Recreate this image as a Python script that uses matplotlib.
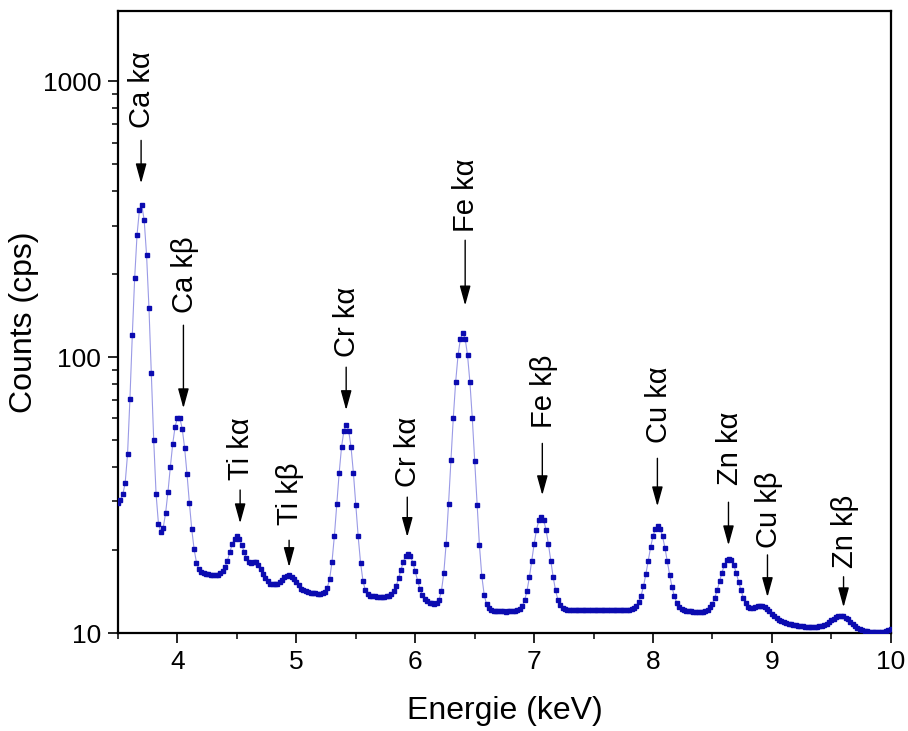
import numpy as np
import matplotlib
matplotlib.use("Agg")
import matplotlib.pyplot as plt
from matplotlib.ticker import MultipleLocator, LogLocator, FixedLocator, FixedFormatter, NullFormatter

plt.rcParams['font.family'] = ['Liberation Sans', 'DejaVu Sans']

# spectrum, one value every 0.02 keV from 3.50 to 10.00 keV
energy = np.linspace(3.5, 10.0, 326)
counts = [
    29.6, 30.4, 31.8, 35.0, 44.5,
    70.6, 120.2, 194.3, 278.4, 341.9,
    356.0, 313.5, 234.5, 151.4, 87.9,
    50.1, 31.9, 24.9, 23.2, 24.1,
    27.2, 32.5, 40.0, 48.5, 56.0,
    60.4, 60.1, 55.0, 46.9, 37.8,
    29.7, 23.8, 20.1, 18.0, 17.0,
    16.6, 16.5, 16.4, 16.35, 16.3,
    16.3, 16.3, 16.3, 16.45, 16.75,
    17.3, 18.3, 19.6, 21.0, 22.0,
    22.4, 22.0, 20.9, 19.7, 18.7,
    18.1, 18.0, 18.1, 18.1, 17.7,
    17.1, 16.4, 15.8, 15.4, 15.1,
    15.0, 15.0, 15.0, 15.3, 15.6,
    15.9, 16.1, 16.2, 16.0, 15.7,
    15.3, 14.9, 14.5, 14.3, 14.2,
    14.1, 14.0, 14.0, 13.95, 13.9,
    13.9, 13.95, 14.1, 14.6, 15.7,
    18.15, 22.55, 29.3, 38.0, 47.2,
    54.2, 56.9, 54.2, 47.2, 38.0,
    29.2, 22.4, 18.0, 15.5, 14.3,
    13.85, 13.66, 13.6, 13.57, 13.56,
    13.55, 13.54, 13.55, 13.57, 13.64,
    13.83, 14.2, 14.84, 15.8, 16.97,
    18.17, 19.07, 19.38, 18.99, 18.02,
    16.74, 15.48, 14.45, 13.73, 13.29,
    13.03, 12.89, 12.81, 12.78, 12.86,
    13.2, 14.17, 16.46, 21.1, 29.3,
    42.35, 60.2, 81.3, 101.6, 116.7,
    122.3, 116.7, 101.6, 81.1, 60.1,
    42.15, 29.1, 20.8, 16.1, 13.75,
    12.7, 12.3, 12.12, 12.05, 12.02,
    12.0, 11.99, 11.98, 11.97, 11.98,
    12.0, 12.0, 12.03, 12.08, 12.21,
    12.51, 13.13, 14.22, 15.92, 18.26,
    21.0, 23.67, 25.64, 26.38, 25.66,
    23.71, 21.05, 18.32, 15.99, 14.3,
    13.22, 12.61, 12.31, 12.18, 12.13,
    12.1, 12.1, 12.1, 12.1, 12.1,
    12.12, 12.12, 12.12, 12.13, 12.13,
    12.13, 12.14, 12.14, 12.14, 12.14,
    12.15, 12.15, 12.15, 12.15, 12.15,
    12.15, 12.15, 12.15, 12.15, 12.16,
    12.17, 12.23, 12.33, 12.55, 12.96,
    13.67, 14.77, 16.34, 18.31, 20.47,
    22.46, 23.87, 24.38, 23.85, 22.42,
    20.42, 18.25, 16.27, 14.69, 13.58,
    12.87, 12.45, 12.22, 12.1, 12.04,
    12.0, 11.98, 11.96, 11.94, 11.92,
    11.9, 11.93, 11.99, 12.13, 12.38,
    12.79, 13.43, 14.31, 15.39, 16.56,
    17.61, 18.36, 18.63, 18.35, 17.6,
    16.54, 15.37, 14.29, 13.43, 12.82,
    12.47, 12.33, 12.31, 12.39, 12.49,
    12.56, 12.55, 12.45, 12.27, 12.02,
    11.77, 11.53, 11.33, 11.17, 11.05,
    10.95, 10.86, 10.8, 10.74, 10.7,
    10.66, 10.63, 10.6, 10.57, 10.55,
    10.53, 10.53, 10.52, 10.53, 10.54,
    10.58, 10.63, 10.71, 10.82, 10.96,
    11.12, 11.29, 11.43, 11.52, 11.55,
    11.49, 11.37, 11.2, 11.0, 10.8,
    10.62, 10.47, 10.35, 10.27, 10.2,
    10.16, 10.12, 10.1, 10.08, 10.07,
    10.06, 10.06, 10.08, 10.14, 10.24,
    10.36,
]

# peak labels (text as in the figure) and where their arrows sit
peak_labels = ["Ca kα", "Ca kβ", "Ti kα", "Ti kβ", "Cr kα", "Cr kα",
               "Fe kα", "Fe kβ", "Cu kα", "Zn kα", "Cu kβ", "Zn kβ"]
label_energy = [3.694, 4.05, 4.527, 4.939, 5.419, 5.933,
                6.42, 7.069, 8.037, 8.635, 8.963, 9.603]
arrow_tail = [611, 130.6, 33.0, 21.7, 92, 31.1, 265.5, 48.7, 43.0, 29.8, 19.2, 16.0]
arrow_tip = [427, 65.3, 25.0, 17.35, 64.3, 22.3, 154, 31.6, 28.8, 20.8, 13.5, 12.4]
text_bottom = [676, 145, 35.8, 24.6, 100, 33.8, 284, 55.3, 48.7, 34.3, 20.3, 17.2]

fig = plt.figure(figsize=(9.08, 7.31), dpi=100)
ax = fig.add_axes([0.130, 0.134, 0.851, 0.851])

ax.plot(energy, counts, color="#9a9ae6", lw=0.8, zorder=2)
ax.plot(energy, counts, ls="none", marker="s", ms=3.0, color="#0b0bb0",
        mec="#0b0bb0", zorder=3)

for name, xe, tail, tip, tb in zip(peak_labels, label_energy, arrow_tail, arrow_tip, text_bottom):
    ax.annotate("", xy=(xe, tip), xytext=(xe, tail),
                arrowprops=dict(arrowstyle="-|>,head_length=0.8,head_width=0.22",
                                color="black", lw=1.0, mutation_scale=15,
                                shrinkA=0, shrinkB=0))
    ax.text(xe + 0.01, tb, name, rotation=90, ha="center", va="bottom", fontsize=21)

ax.set_yscale("log")
ax.set_xlim(3.5, 10)
ax.set_ylim(10, 1800)

ax.xaxis.set_major_locator(FixedLocator([4, 5, 6, 7, 8, 9, 10]))
ax.xaxis.set_minor_locator(MultipleLocator(0.5))
ax.yaxis.set_major_locator(FixedLocator([10, 100, 1000]))
ax.yaxis.set_major_formatter(FixedFormatter(["10", "100", "1000"]))
ax.yaxis.set_minor_locator(LogLocator(base=10, subs=np.arange(2, 10)))
ax.yaxis.set_minor_formatter(NullFormatter())

ax.tick_params(which="major", direction="out", length=7, width=1.2, labelsize=19, pad=5)
ax.tick_params(which="minor", direction="out", length=4, width=1.1)
for s in ax.spines.values():
    s.set_linewidth(1.6)

ax.set_xlabel("Energie (keV)", fontsize=23, labelpad=16)
ax.set_ylabel("Counts (cps)", fontsize=23, labelpad=3)

fig.savefig("out.png", dpi=100)
